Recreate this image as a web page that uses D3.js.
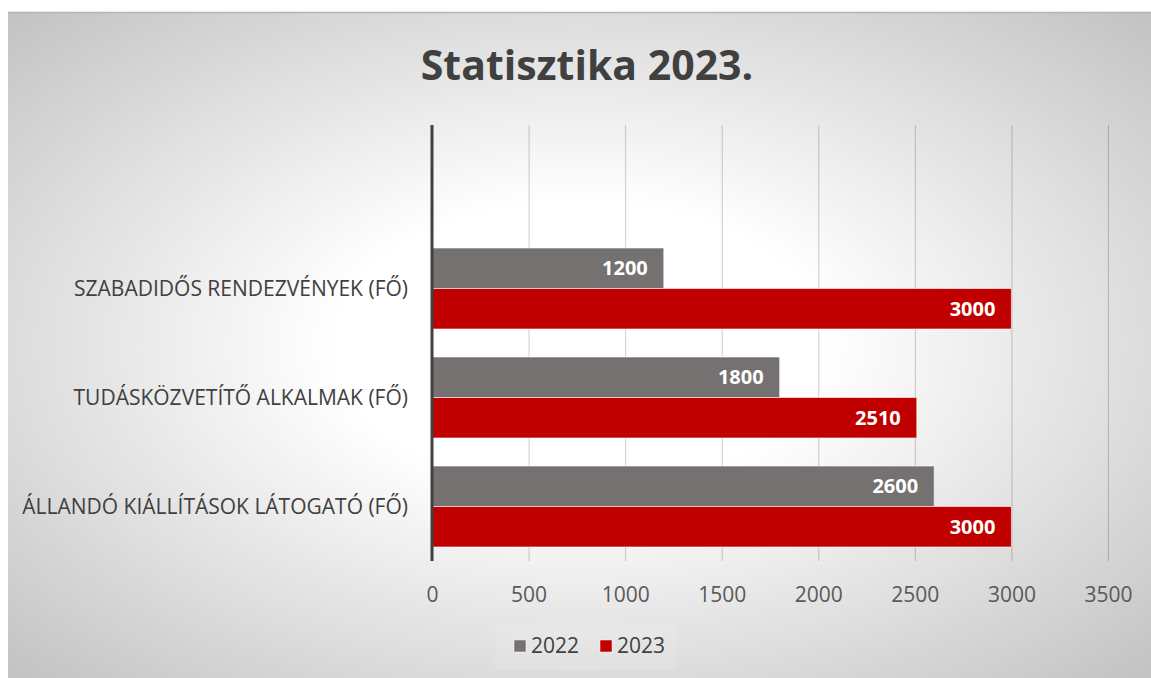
<!DOCTYPE html>
<html>
<head>
<meta charset="utf-8">
<script src="https://cdn.jsdelivr.net/npm/d3@7"></script>
<style>
  html, body { margin: 0; padding: 0; background: #fff; }
  svg text { font-family: "Open Sans", "DejaVu Sans", sans-serif; }
</style>
</head>
<body>
<div id="chart"></div>
<script>
// chart values
var categories = ["SZABADIDŐS RENDEZVÉNYEK (FŐ)", "TUDÁSKÖZVETÍTŐ ALKALMAK (FŐ)", "ÁLLANDÓ KIÁLLÍTÁSOK LÁTOGATÓ (FŐ)"];
var seriesNames = ["2022", "2023"];
var values2022 = [1200, 1800, 2600];
var values2023 = [3000, 2510, 3000];
var xTicks = [0, 500, 1000, 1500, 2000, 2500, 3000, 3500];
var colors = ["#767171", "#C00000"];

var width = 1151;
var height = 678;

var svg = d3.select("#chart").append("svg")
  .attr("width", width)
  .attr("height", height);

// background gradient
var defs = svg.append("defs");
var grad = defs.append("radialGradient")
  .attr("id", "bg")
  .attr("cx", "0.5").attr("cy", "0.5").attr("r", "0.71");
grad.append("stop").attr("offset", "0").attr("stop-color", "#ffffff");
grad.append("stop").attr("offset", "0.3").attr("stop-color", "#ffffff");
grad.append("stop").attr("offset", "1").attr("stop-color", "#c2c2c2");

svg.append("rect")
  .attr("x", 8).attr("y", 12)
  .attr("width", width - 8).attr("height", height - 12)
  .attr("fill", "url(#bg)");
svg.append("line")
  .attr("x1", 8).attr("x2", width)
  .attr("y1", 12.5).attr("y2", 12.5)
  .attr("stroke", "#b4b4b4").attr("stroke-width", 1.5);

// title
svg.append("text")
  .attr("x", 587).attr("y", 80)
  .attr("text-anchor", "middle")
  .attr("font-size", 41)
  .attr("font-weight", "bold")
  .attr("fill", "#404040")
  .text("Statisztika 2023.");

// plot area
var plotTop = 125, plotBottom = 561;

var xScale = d3.scaleLinear()
  .domain([0, 3500])
  .range([432, 1108]);

// empty first band keeps the free space above the bars
var yScale = d3.scaleBand()
  .domain([""].concat(categories))
  .range([plotTop, plotBottom])
  .paddingInner(0.257)
  .paddingOuter(0.1285);

var subScale = d3.scaleBand()
  .domain(seriesNames)
  .range([0, yScale.bandwidth()]);

// gridlines
var grid = svg.append("g")
  .attr("transform", "translate(0," + plotBottom + ")")
  .call(d3.axisBottom(xScale).tickValues(xTicks).tickSize(-(plotBottom - plotTop)).tickFormat(""));
grid.select(".domain").remove();
grid.selectAll(".tick line")
  .attr("stroke", "#000")
  .attr("stroke-opacity", 0.2);

// x tick labels
var xAxis = svg.append("g")
  .attr("transform", "translate(0," + plotBottom + ")")
  .call(d3.axisBottom(xScale).tickValues(xTicks).tickSize(0).tickPadding(26).tickFormat(d3.format("d")));
xAxis.select(".domain").remove();
xAxis.selectAll("text")
  .attr("font-size", 21)
  .attr("fill", "#595959")
  .attr("font-family", "Open Sans");

// category labels
svg.append("g")
  .selectAll("text")
  .data(categories)
  .enter()
  .append("text")
  .attr("x", 408)
  .attr("y", function(d) { return yScale(d) + yScale.bandwidth() / 2; })
  .attr("dy", "0.35em")
  .attr("text-anchor", "end")
  .attr("font-size", 21)
  .attr("fill", "#404040")
  .text(function(d) { return d; });

// bars
var rows = categories.map(function(c, i) {
  return [
    { cat: c, key: "2022", value: values2022[i], color: colors[0] },
    { cat: c, key: "2023", value: values2023[i], color: colors[1] }
  ];
});

var groups = svg.append("g")
  .selectAll("g")
  .data(rows)
  .enter()
  .append("g")
  .attr("transform", function(d) { return "translate(0," + yScale(d[0].cat) + ")"; });

groups.selectAll("rect")
  .data(function(d) { return d; })
  .enter()
  .append("rect")
  .attr("x", xScale(0))
  .attr("y", function(d) { return subScale(d.key); })
  .attr("width", function(d) { return xScale(d.value) - xScale(0); })
  .attr("height", subScale.bandwidth())
  .attr("fill", function(d) { return d.color; })
  .attr("stroke", "#ffffff")
  .attr("stroke-opacity", 0.6)
  .attr("stroke-width", 1);

groups.selectAll("text")
  .data(function(d) { return d; })
  .enter()
  .append("text")
  .attr("x", function(d) { return xScale(d.value) - 16; })
  .attr("y", function(d) { return subScale(d.key) + subScale.bandwidth() / 2; })
  .attr("dy", "0.35em")
  .attr("text-anchor", "end")
  .attr("font-size", 20)
  .attr("font-weight", "bold")
  .attr("fill", "#ffffff")
  .text(function(d) { return d.value; });

// vertical axis line
svg.append("line")
  .attr("x1", xScale(0)).attr("x2", xScale(0))
  .attr("y1", plotTop).attr("y2", plotBottom)
  .attr("stroke", "#404040")
  .attr("stroke-width", 3);

// legend
svg.append("rect")
  .attr("x", 495).attr("y", 624)
  .attr("width", 182).attr("height", 46)
  .attr("fill", "#ffffff").attr("fill-opacity", 0.12);

var legend = svg.append("g")
  .selectAll("g")
  .data(seriesNames)
  .enter()
  .append("g")
  .attr("transform", function(d, i) { return "translate(" + (514 + i * 86) + ",646)"; });

legend.append("rect")
  .attr("x", 0).attr("y", -6)
  .attr("width", 12).attr("height", 12)
  .attr("fill", function(d, i) { return colors[i]; })
  .attr("stroke", "#ffffff").attr("stroke-opacity", 0.5);

legend.append("text")
  .attr("x", 17)
  .attr("dy", "0.35em")
  .attr("font-size", 21)
  .attr("fill", "#404040")
  .text(function(d) { return d; });
</script>
</body>
</html>
